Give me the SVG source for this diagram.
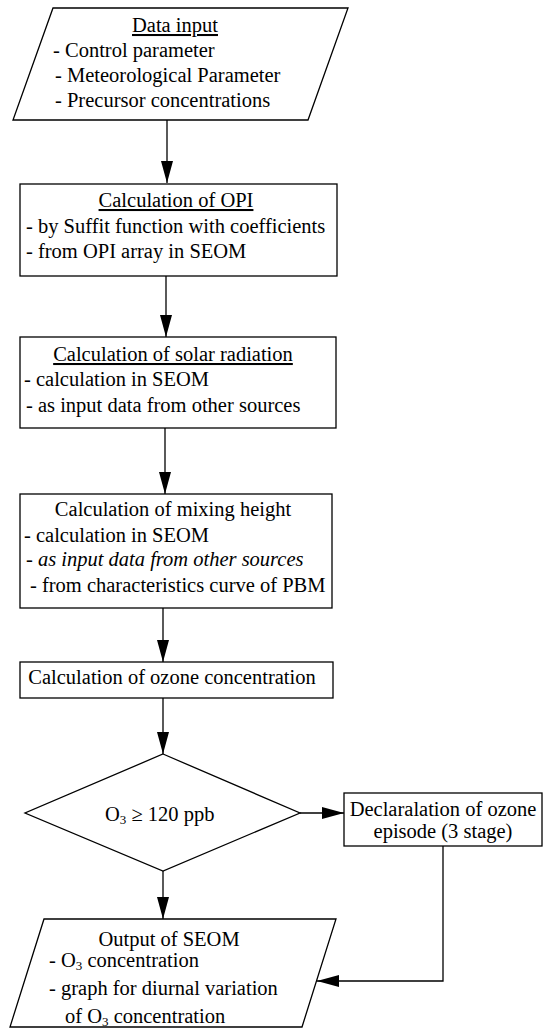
<svg xmlns="http://www.w3.org/2000/svg" width="546" height="1028" viewBox="0 0 546 1028">
<style>
.s{fill:#fff;stroke:#000;stroke-width:1.3}
text{font-family:"Liberation Serif","Times New Roman",serif;font-size:20.5px;fill:#000}
.c{text-anchor:middle}
.u{text-decoration:underline}
.i{font-style:italic}
.sub{font-size:13px}
.e{fill:none;stroke:#000;stroke-width:1.3}
</style>
<defs>
<marker id="ah" markerUnits="userSpaceOnUse" markerWidth="22" markerHeight="12" refX="22" refY="6" orient="auto">
<path d="M0,0 L22,6 L0,12 Z" fill="#000"/>
</marker>
</defs>
<rect width="546" height="1028" fill="#fff"/>
<g id="data-input">
<polygon class="s" points="53,8 348,8 308,120 13,120"/>
<text class="c u" x="175" y="32">Data input</text>
<text x="53" y="57">- Control parameter</text>
<text x="55" y="82">- Meteorological Parameter</text>
<text x="55" y="107">- Precursor concentrations</text>
</g>
<g id="calc-opi">
<rect class="s" x="20" y="184" width="317" height="92"/>
<text class="c u" x="176" y="207">Calculation of OPI</text>
<text x="26" y="233">- by Suffit function with coefficients</text>
<text x="26" y="258">- from OPI array in SEOM</text>
</g>
<g id="calc-solar">
<rect class="s" x="20" y="337" width="316" height="91"/>
<text class="c u" x="173" y="361">Calculation of solar radiation</text>
<text x="24" y="386">- calculation in SEOM</text>
<text x="26" y="412">- as input data from other sources</text>
</g>
<g id="calc-mixing">
<rect class="s" x="20" y="494" width="312" height="114"/>
<text class="c" x="173" y="516">Calculation of mixing height</text>
<text x="24" y="542">- calculation in SEOM</text>
<text class="i" x="26" y="566">- as input data from other sources</text>
<text x="30" y="592">- from characteristics curve of PBM</text>
</g>
<g id="calc-ozone">
<rect class="s" x="20" y="662" width="313" height="36"/>
<text class="c" x="172" y="684">Calculation of ozone concentration</text>
</g>
<g id="decision">
<polygon class="s" points="163,754 300,813 163,871 25,813"/>
<text x="105" y="821">O<tspan class="sub" dy="3">3</tspan><tspan dy="-3"> ≥ 120 ppb</tspan></text>
</g>
<g id="declaration">
<rect class="s" x="344" y="793" width="198" height="53"/>
<text class="c" x="443" y="816">Declaralation of ozone</text>
<text class="c" x="443" y="838">episode (3 stage)</text>
</g>
<g id="output">
<polygon class="s" points="44,919 336,919 302,1027 10,1027"/>
<text class="c" x="169" y="946">Output of SEOM</text>
<text x="49" y="967">- O<tspan class="sub" dy="3">3</tspan><tspan dy="-3"> concentration</tspan></text>
<text x="49" y="995">- graph for diurnal variation</text>
<text x="65" y="1023">of O<tspan class="sub" dy="3">3</tspan><tspan dy="-3"> concentration</tspan></text>
</g>
<g id="connectors">
<path class="e" d="M167,120 V183" marker-end="url(#ah)"/>
<path class="e" d="M166,276 V337" marker-end="url(#ah)"/>
<path class="e" d="M165,428 V494" marker-end="url(#ah)"/>
<path class="e" d="M163,608 V662" marker-end="url(#ah)"/>
<path class="e" d="M163,698 V754" marker-end="url(#ah)"/>
<path class="e" d="M300,813 H344" marker-end="url(#ah)"/>
<path class="e" d="M163,871 V919" marker-end="url(#ah)"/>
<path class="e" d="M443,846 V981 H317" marker-end="url(#ah)"/>
</g>
</svg>
